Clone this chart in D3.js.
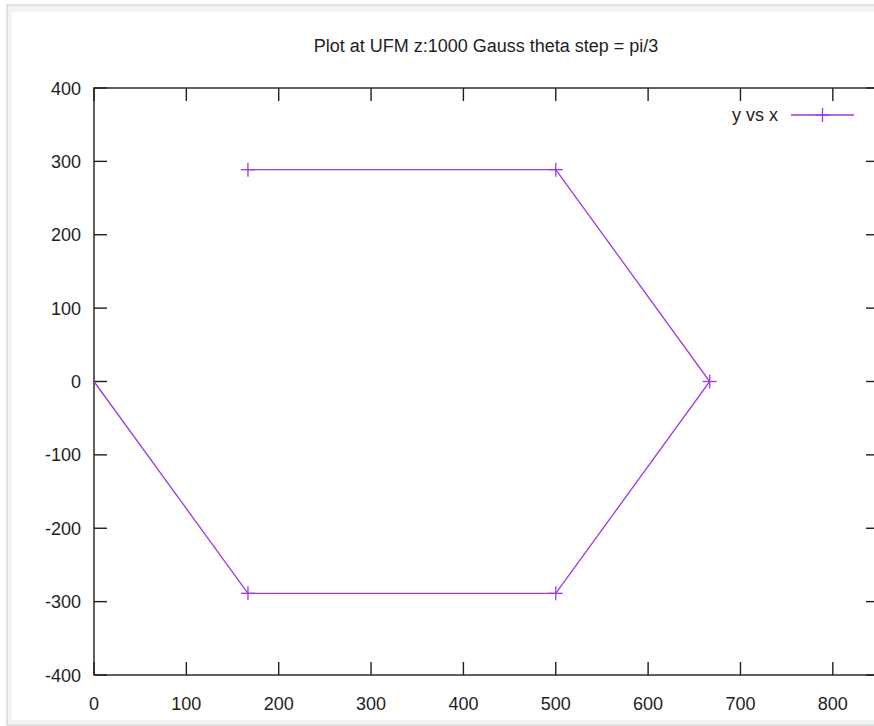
<!DOCTYPE html>
<html><head><meta charset="utf-8">
<script src="https://cdn.jsdelivr.net/npm/d3@7"></script>
<style>
html,body{margin:0;padding:0;background:#fff;}
svg{display:block;font-family:"Liberation Sans",Arial,Helvetica,sans-serif;}
</style></head>
<body>
<svg id="c" width="874" height="726"></svg>
<script>
// ---- data ----
const xs = [0, 166.7, 500, 666.7, 500, 166.7];
const ys = [0, -288.7, -288.7, 0, 288.7, 288.7];
const xTicks = [0, 100, 200, 300, 400, 500, 600, 700, 800];
const yTicks = [-400, -300, -200, -100, 0, 100, 200, 300, 400];
const titleText = "Plot at UFM z:1000 Gauss theta step = pi/3";
const legendLabel = "y vs x";

const svg = d3.select("#c");
const W = 874, H = 726;
const color = "#9a3be2";
const ink = "#1e1e1e";

// window frame of screenshot
svg.append("rect").attr("x",0).attr("y",0).attr("width",W).attr("height",H).attr("fill","#fff");
svg.append("rect").attr("x",7).attr("y",5).attr("width",W+10).attr("height",720)
  .attr("fill","#f1f4f4").attr("stroke","#c8c8c8").attr("stroke-width",1);
svg.append("rect").attr("x",12).attr("y",12).attr("width",W).attr("height",708).attr("fill","#fff");

const x = d3.scaleLinear().domain([0, 850]).range([94, 879]);
const y = d3.scaleLinear().domain([-400, 400]).range([675, 88]);
const x0 = x.range()[0], x1 = x.range()[1], y0 = y.range()[0], y1 = y.range()[1];
const tl = 13;

const g = svg.append("g");
// border
g.append("rect").attr("x",x0).attr("y",y1).attr("width",x1-x0).attr("height",y0-y1)
  .attr("fill","none").attr("stroke",ink).attr("stroke-width",1.4);

// x ticks (bottom and top mirrored)
xTicks.forEach(t => {
  const px = x(t);
  g.append("line").attr("x1",px).attr("x2",px).attr("y1",y0).attr("y2",y0-tl).attr("stroke",ink).attr("stroke-width",1.4);
  g.append("line").attr("x1",px).attr("x2",px).attr("y1",y1).attr("y2",y1+tl).attr("stroke",ink).attr("stroke-width",1.4);
  g.append("text").attr("x",px).attr("y",710).attr("text-anchor","middle")
    .attr("font-size",18).attr("fill",ink).text(t);
});
// y ticks (left and right mirrored)
yTicks.forEach(t => {
  const py = y(t);
  g.append("line").attr("x1",x0).attr("x2",x0+tl).attr("y1",py).attr("y2",py).attr("stroke",ink).attr("stroke-width",1.4);
  g.append("line").attr("x1",x1).attr("x2",x1-tl).attr("y1",py).attr("y2",py).attr("stroke",ink).attr("stroke-width",1.4);
  g.append("text").attr("x",81).attr("y",py+6.5).attr("text-anchor","end")
    .attr("font-size",18).attr("fill",ink).text(t);
});

// title
svg.append("text").attr("x",486).attr("y",52).attr("text-anchor","middle")
  .attr("font-size",18).attr("fill",ink).text(titleText);

// data line
const pts = xs.map((v,i)=>({x:v,y:ys[i]}));
const line = d3.line().x(d=>x(d.x)).y(d=>y(d.y));
svg.append("path").datum(pts).attr("d",line).attr("fill","none")
  .attr("stroke",color).attr("stroke-width",1.3);

// markers (gnuplot skips points lying on the border)
const plus = (sel, cx, cy, s) => {
  sel.append("line").attr("x1",cx-s).attr("x2",cx+s).attr("y1",cy).attr("y2",cy).attr("stroke",color).attr("stroke-width",1.3);
  sel.append("line").attr("x1",cx).attr("x2",cx).attr("y1",cy-s).attr("y2",cy+s).attr("stroke",color).attr("stroke-width",1.3);
};
const mg = svg.append("g");
pts.filter(d => x(d.x) > x0 + 1).forEach(d => plus(mg, x(d.x), y(d.y), 7));

// legend
svg.append("text").attr("x",778).attr("y",121).attr("text-anchor","end")
  .attr("font-size",18).attr("fill",ink).text(legendLabel);
svg.append("line").attr("x1",791).attr("x2",854).attr("y1",115).attr("y2",115)
  .attr("stroke",color).attr("stroke-width",1.3);
plus(svg, 822.5, 115, 7);
</script>
</body></html>
